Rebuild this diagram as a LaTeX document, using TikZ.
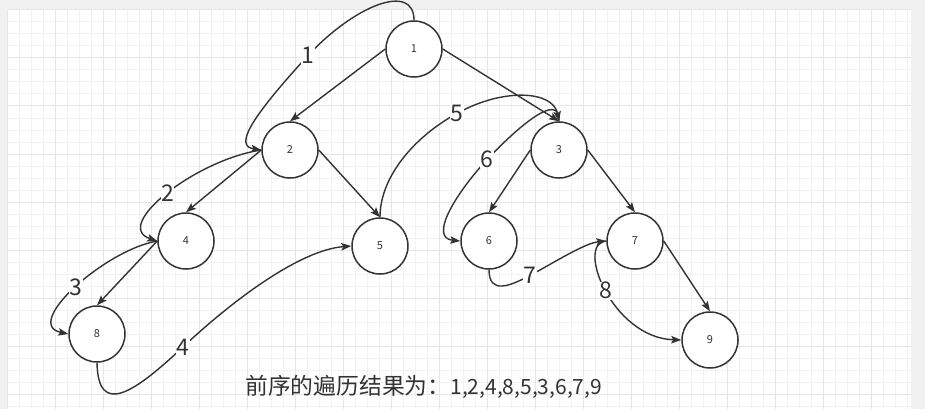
\documentclass[tikz,border=0pt]{standalone}
\usepackage{fontspec}
\setmainfont{Noto Sans CJK SC}
\usepackage{xcolor}
\usepackage{tikz}
\usetikzlibrary{arrows.meta}

\definecolor{ink}{HTML}{333333}
\definecolor{canvasgray}{HTML}{F1F1F1}
\definecolor{gridminor}{HTML}{F2F2F2}
\definecolor{gridmajor}{HTML}{E6E6E6}

\tikzset{
  vertex/.style={circle, draw=ink, line width=1.5pt, fill=white, minimum size=56pt,
    inner sep=0pt, text=ink, font=\fontsize{11}{13}\selectfont},
  treeedge/.style={draw=ink, line width=1.4pt, -{Stealth[length=10pt,width=7.5pt,inset=2pt]}},
  walk/.style={treeedge},
  orderlabel/.style={fill=white, inner sep=0.5pt, text=ink, font=\fontsize{23}{27}\selectfont},
  result/.style={inner sep=0pt, text=ink, font=\fontsize{21}{25}\selectfont},
}

\begin{document}
\begin{tikzpicture}[x=1pt, y=-1pt]
  % page and grid
  \fill[canvasgray] (0,0) rectangle (925,409);
  \useasboundingbox (0,0) rectangle (925,409);
  \fill[white] (7.5,10) rectangle (911,409);
  \foreach \i in {0,...,75} \draw[gridminor, line width=1pt] ({7.5+12*\i},10) -- ({7.5+12*\i},409);
  \foreach \j in {0,...,33} \draw[gridminor, line width=1pt] (7.5,{10+12*\j}) -- (911,{10+12*\j});
  \foreach \i in {0,4,...,72} \draw[gridmajor, line width=1pt] ({7.5+12*\i},10) -- ({7.5+12*\i},409);
  \foreach \j in {0,4,...,32} \draw[gridmajor, line width=1pt] (7.5,{10+12*\j}) -- (911,{10+12*\j});

  % tree nodes
  \node[vertex] (n1) at (414,49)  {1};
  \node[vertex] (n2) at (290,150) {2};
  \node[vertex] (n3) at (559,150) {3};
  \node[vertex] (n4) at (186,241) {4};
  \node[vertex] (n5) at (380,246) {5};
  \node[vertex] (n6) at (489,241) {6};
  \node[vertex] (n7) at (635,241) {7};
  \node[vertex] (n8) at (97,334)  {8};
  \node[vertex] (n9) at (710,340) {9};

  % tree edges
  \draw[treeedge] (n1.west) -- (n2.north);
  \draw[treeedge] (n1.east) -- (n3.north);
  \draw[treeedge] (n2.west) -- (n4.north);
  \draw[treeedge] (n2.east) -- (n5.north);
  \draw[treeedge] (n4.west) -- (n8.north);
  \draw[treeedge] (n3.west) -- (n6.north);
  \draw[treeedge] (n3.east) -- (n7.north);
  \draw[treeedge] (n7.east) -- (n9.north);

  % preorder walk
  \draw[walk] (n1.north) .. controls (414,-18) and (355,5) .. (308,55.5) node[orderlabel] (lb1) {1}
    .. controls (248,121) and (235,146) .. (n2.west);
  \draw[walk] (n2.west) .. controls (195,160) and (112,226) .. node[orderlabel, pos=0.5] (lb2) {2} (n4.west);
  \draw[walk] (n4.west) .. controls (105,250) and (22,324) .. node[orderlabel, pos=0.5] (lb3) {3} (n8.west);
  \draw[walk] (n8.south) .. controls (98,418) and (135,392) .. (183,347) node[orderlabel] (lb4) {4}
    .. controls (233,300) and (300,250) .. (n5.west);
  \draw[walk] (n5.north) .. controls (380,175) and (417,135) .. (457,113.5) node[orderlabel] (lb5) {5}
    .. controls (502,88) and (553,90) .. (n3.north);
  \draw[walk] (n3.north) .. controls (560,90) and (517,128) .. (487,159.5) node[orderlabel] (lb6) {6}
    .. controls (452,198) and (430,238) .. (n6.west);
  \draw[walk] (n6.south) .. controls (489,295) and (510,286) .. (530,275.5) node[orderlabel] (lb7) {7}
    .. controls (555,262) and (585,243) .. (n7.west);
  \draw[walk] (n7.west) .. controls (575,243) and (612,338) .. node[orderlabel, pos=0.5] (lb8) {8} (n9.west);

  % result line
  \node[result, anchor=base west] (res) at (245,394)
    {{\fontsize{22.8}{26}\selectfont 前序的遍历结果为：}1,2,4,8,5,3,6,7,9};
\end{tikzpicture}
\end{document}
